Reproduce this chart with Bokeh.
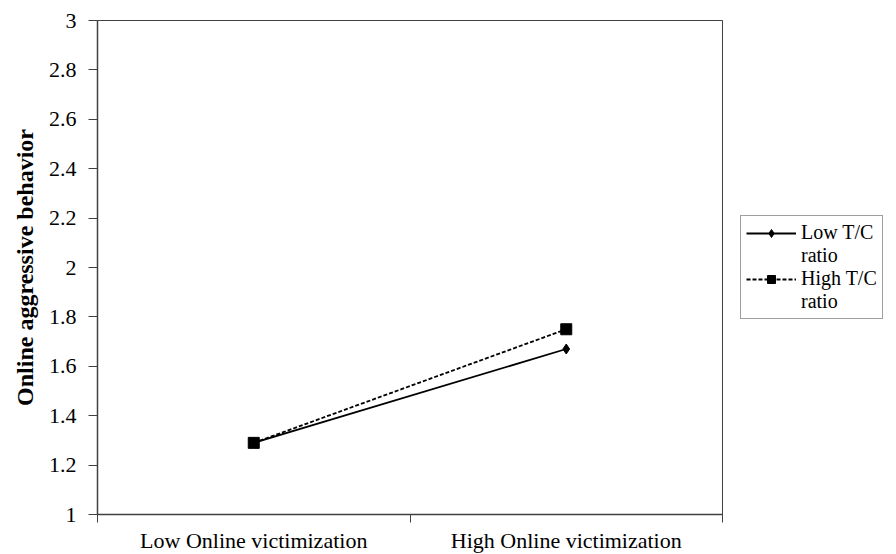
from bokeh.plotting import figure
from bokeh.models import FixedTicker, Legend, LegendItem, Range1d
from bokeh.embed import file_html
from bokeh.resources import INLINE

categories = ["Low Online victimization", "High Online victimization"]
low_tc = [1.29, 1.67]
high_tc = [1.29, 1.75]
series_names = ["Low T/C", "High T/C"]
name_suffix = "ratio"
y_ticks = [1.0, 1.2, 1.4, 1.6, 1.8, 2.0, 2.2, 2.4, 2.6, 2.8, 3.0]
y_tick_labels = ["1", "1.2", "1.4", "1.6", "1.8", "2", "2.2", "2.4", "2.6", "2.8", "3"]

xs = [i + 0.5 for i in range(len(categories))]

FONT = "'Liberation Serif', 'Times New Roman', serif"
AX = "#404040"

p = figure(width=888, height=546, output_backend="svg", toolbar_location=None,
           x_range=Range1d(0, len(categories)), y_range=Range1d(1, 3),
           frame_width=625, frame_height=494,
           min_border_left=97, min_border_top=20, min_border_bottom=32, min_border_right=0)

p.xgrid.visible = False
p.ygrid.visible = False
p.outline_line_color = AX
p.outline_line_width = 1
p.background_fill_color = "white"
p.border_fill_color = "white"

# x axis
p.xaxis.ticker = FixedTicker(ticks=xs, minor_ticks=[0, 1, 2])
p.xaxis.major_label_overrides = {x: c for x, c in zip(xs, categories)}
p.xaxis.major_tick_out = 0
p.xaxis.major_tick_in = 0
p.xaxis.minor_tick_out = 8
p.xaxis.minor_tick_in = 0
p.xaxis.axis_line_color = AX
p.xaxis.axis_line_width = 1.5
p.xaxis.minor_tick_line_color = AX
p.xaxis.major_label_text_font = FONT
p.xaxis.major_label_text_font_size = "22px"
p.xaxis.major_label_text_color = "black"
p.xaxis.major_label_standoff = 5

# y axis
p.yaxis.ticker = FixedTicker(ticks=y_ticks, minor_ticks=[])
p.yaxis.major_label_overrides = {t: l for t, l in zip(y_ticks, y_tick_labels)}
p.yaxis.major_tick_out = 9
p.yaxis.major_tick_in = 0
p.yaxis.axis_line_color = AX
p.yaxis.axis_line_width = 1.5
p.yaxis.major_tick_line_color = AX
p.yaxis.major_label_text_font = FONT
p.yaxis.major_label_text_font_size = "22px"
p.yaxis.major_label_text_color = "black"
p.yaxis.major_label_standoff = 12
p.yaxis.axis_label = "Online aggressive behavior"
p.yaxis.axis_label_text_font = FONT
p.yaxis.axis_label_text_font_style = "bold"
p.yaxis.axis_label_text_font_size = "24px"
p.yaxis.axis_label_text_color = "black"
p.yaxis.axis_label_standoff = 8

l1 = p.line(xs, low_tc, line_color="black", line_width=1.8)
m1 = p.scatter(xs, low_tc, marker="diamond", size=10, fill_color="black", line_color="black")
l2 = p.line(xs, high_tc, line_color="black", line_width=1.8, line_dash="4 2")
m2 = p.scatter(xs, high_tc, marker="square", size=11, fill_color="black", line_color="black")

# blank glyph for second label line in legend
blank = p.line([], [], line_alpha=0)

legend = Legend(items=[LegendItem(label=series_names[0], renderers=[l1, m1]),
                       LegendItem(label=name_suffix, renderers=[blank]),
                       LegendItem(label=series_names[1], renderers=[l2, m2]),
                       LegendItem(label=name_suffix, renderers=[blank])],
                location="center_left")
legend.label_text_font = FONT
legend.label_text_font_size = "20px"
legend.label_text_color = "black"
legend.label_height = 20
legend.glyph_width = 50
legend.glyph_height = 20
legend.label_standoff = 5
legend.spacing = 0
legend.padding = 5
legend.margin = 18
legend.border_line_color = AX
legend.border_line_width = 1.5
legend.background_fill_color = "white"
p.add_layout(legend, "right")

open("out.html", "w").write(file_html(p, INLINE))
